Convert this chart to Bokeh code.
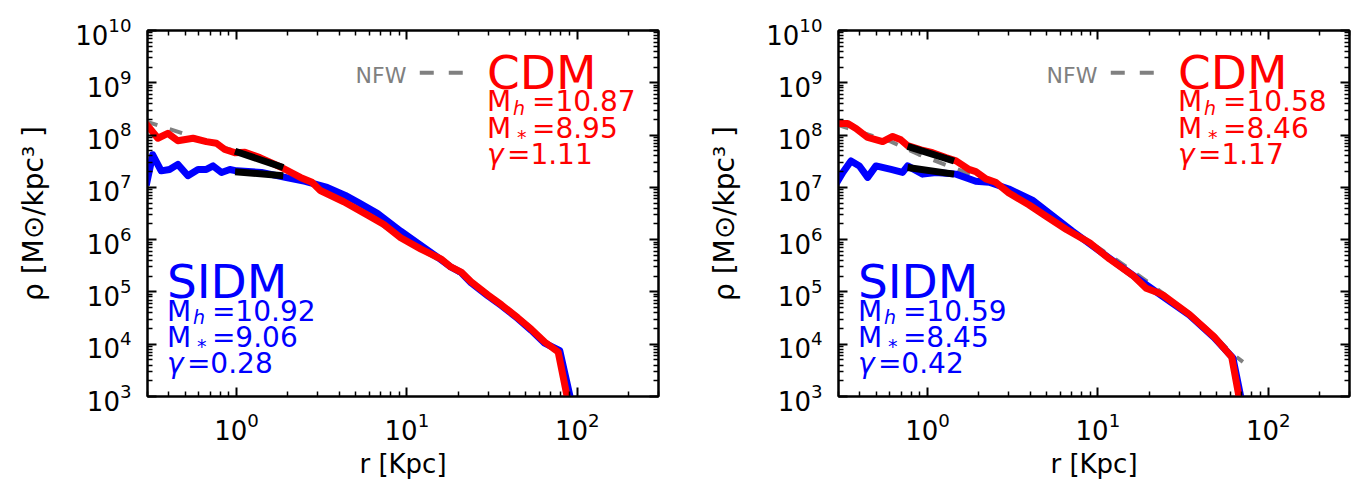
from bokeh.plotting import figure
from bokeh.layouts import row
from bokeh.models import LogAxis, FixedTicker, LogTickFormatter, Label, Range1d, CustomJSTickFormatter
from bokeh.embed import file_html
from bokeh.resources import INLINE

FONT = "DejaVu Sans"

# ---------------- tick values ----------------
X_TICKS = [1, 10, 100]
X_MINOR = [0.3, 0.4, 0.5, 0.6, 0.7, 0.8, 0.9, 2, 3, 4, 5, 6, 7, 8, 9,
           20, 30, 40, 50, 60, 70, 80, 90, 200, 300]
Y_TICKS = [1e3, 1e4, 1e5, 1e6, 1e7, 1e8, 1e9, 1e10]
Y_MINOR = [k * 10 ** e for e in range(3, 10) for k in range(2, 10)]

# ---------------- left panel data ----------------
L_cdm_r = [0.29, 0.345, 0.395, 0.452, 0.555, 0.665, 0.762, 0.853, 0.977, 1.12, 1.37,
           1.84, 2.37, 2.77, 3.10, 4.26, 5.85, 7.33, 9.19, 12.1, 15.8, 18.1, 20.8,
           23.8, 29.8, 35.8, 44.8, 53.7, 64.4, 77.3, 90.0]
L_cdm_rho = [1.75e8, 8.7e7, 1.08e8, 7.8e7, 8.7e7, 7.5e7, 7.0e7, 5.3e7, 4.6e7, 4.7e7, 3.7e7,
             2.4e7, 1.55e7, 1.25e7, 8.7e6, 5.3e6, 2.98e6, 1.94e6, 1.09e6, 6.6e5, 4.3e5, 3.0e5, 2.4e5,
             1.56e5, 8.8e4, 5.7e4, 3.2e4, 1.94e4, 1.1e4, 7.1e3, 6.0e2]
L_sidm_r = [0.295, 0.322, 0.361, 0.404, 0.452, 0.518, 0.594, 0.665, 0.728, 0.816, 0.913,
            1.0, 1.4, 1.93, 2.53, 3.4, 4.35, 5.1, 6.7, 9.2, 14.4, 18.1, 20.8, 23.8,
            29.8, 35.8, 44.8, 53.7, 64.4, 79.0, 94.0]
L_sidm_rho = [1.09e7, 4.2e7, 2.07e7, 2.2e7, 2.75e7, 1.67e7, 2.2e7, 2.2e7, 2.57e7, 1.93e7, 2.2e7,
              2.07e7, 1.93e7, 1.55e7, 1.3e7, 1.0e7, 7.0e6, 5.3e6, 3.2e6, 1.45e6, 5.2e5, 3.0e5, 2.35e5, 1.5e5,
              8.5e4, 5.5e4, 3.1e4, 1.85e4, 1.05e4, 7.5e3, 6.0e2]
L_nfw_r = [0.29, 0.5, 0.9, 1.84, 2.77, 5.85, 9.19, 18.1, 29.8, 44.8, 64.4, 77.0]
L_nfw_rho = [1.85e8, 1.04e8, 5.4e7, 2.4e7, 1.25e7, 2.98e6, 1.09e6, 3.0e5, 8.8e4, 3.2e4, 1.1e4, 7.1e3]
L_fit_cdm_r = [0.98, 1.88]
L_fit_cdm_rho = [4.9e7, 2.4e7]
L_fit_sidm_r = [0.98, 1.88]
L_fit_sidm_rho = [1.99e7, 1.67e7]

# ---------------- right panel data ----------------
R_cdm_r = [0.29, 0.34, 0.38, 0.445, 0.545, 0.624, 0.697, 0.763, 0.914, 1.07, 1.28, 1.47,
           1.75, 1.92, 2.2, 2.51, 3.0, 3.95, 4.99, 6.53, 8.94, 11.7, 16.0, 19.2, 22.0,
           24.0, 34.5, 48.0, 61.0, 70.0]
R_cdm_rho = [1.66e8, 1.66e8, 1.34e8, 9.0e7, 7.5e7, 9.4e7, 8.1e7, 6.3e7, 5.2e7, 4.6e7, 3.7e7, 3.2e7,
             2.2e7, 2.0e7, 1.45e7, 1.25e7, 7.8e6, 4.6e6, 2.77e6, 1.56e6, 8.7e5, 4.27e5, 2.08e5, 1.18e5, 1.0e5,
             8.8e4, 3.7e4, 1.4e4, 5.7e3, 5.0e2]
R_sidm_r = [0.29, 0.318, 0.355, 0.398, 0.445, 0.498, 0.61, 0.713, 0.764, 0.936, 1.12, 1.47,
            1.92, 2.3, 3.0, 4.12, 7.1, 11.7, 16.0, 22.0, 34.5, 48.0, 62.0, 72.0]
R_sidm_rho = [1.16e7, 1.93e7, 3.2e7, 2.57e7, 1.55e7, 2.57e7, 2.2e7, 1.93e7, 2.57e7, 1.79e7, 1.93e7, 1.79e7,
              1.31e7, 1.25e7, 9.3e6, 5.7e6, 1.45e6, 4.4e5, 2.1e5, 1.0e5, 3.6e4, 1.35e4, 5.5e3, 5.0e2]
R_nfw_r = [0.29, 0.61, 0.889, 1.33, 2.2, 3.0, 4.0, 6.5, 9.0, 12.2, 16.8, 24.0, 34.5, 48.0, 60.0, 71.0]
R_nfw_rho = [1.6e8, 7.5e7, 4.24e7, 2.57e7, 1.4e7, 8.0e6, 4.6e6, 1.65e6, 8.9e5, 4.6e5, 2.24e5,
             9.5e4, 3.8e4, 1.5e4, 7.0e3, 4.6e3]
R_fit_cdm_r = [0.763, 1.43]
R_fit_cdm_rho = [6.1e7, 3.19e7]
R_fit_sidm_r = [0.763, 1.43]
R_fit_sidm_rho = [2.39e7, 1.79e7]

# ---------------- annotations ----------------
L_cdm_stats = (10.87, 8.95, 1.11)
L_sidm_stats = (10.92, 9.06, 0.28)
R_cdm_stats = (10.58, 8.46, 1.17)
R_sidm_stats = (10.59, 8.45, 0.42)

LIFT = 7  # screen-pixel lift applied to the text annotations


def lab(p, x, y, text, size, color, dx=0, dy=0, style="normal"):
    p.add_layout(Label(x=x, y=y, x_offset=dx, y_offset=dy + LIFT, text=text,
                       text_font=FONT, text_font_size=size, text_color=color,
                       text_font_style=style, text_baseline="alphabetic",
                       text_align="left"))


def stat_block(p, x, ys, title, stats, color):
    mh, ms, g = stats
    lab(p, x, ys[0], title, "47px", color, dy=3)
    lab(p, x, ys[1], "M", "28px", color)
    lab(p, x, ys[1], "h", "19px", color, dx=26, dy=-6, style="italic")
    lab(p, x, ys[1], "=%.2f" % mh, "28px", color, dx=45)
    lab(p, x, ys[2], "M", "28px", color)
    lab(p, x, ys[2], "*", "19px", color, dx=30, dy=-9)
    lab(p, x, ys[2], "=%.2f" % ms, "28px", color, dx=45)
    lab(p, x, ys[3], "γ", "28px", color, style="italic")
    lab(p, x, ys[3], "=%.2f" % g, "28px", color, dx=20)


def style_axis(ax, ticks, minor, labels=True):
    ax.ticker = FixedTicker(ticks=ticks, minor_ticks=minor)
    ax.axis_line_width = 2
    ax.major_tick_line_width = 2
    ax.minor_tick_line_width = 1.5
    ax.major_tick_in = 9
    ax.major_tick_out = 0
    ax.minor_tick_in = 5
    ax.minor_tick_out = 0
    ax.major_label_text_font = FONT
    ax.major_label_text_color = "black"
    ax.major_label_text_font_size = "26px"
    if labels:
        ax.formatter = LogTickFormatter()
    else:
        ax.formatter = CustomJSTickFormatter(code="return '';")
        ax.major_label_standoff = 0


def panel(cdm, sidm, nfw, fit_cdm, fit_sidm, cdm_stats, sidm_stats, left_border, right_border, width):
    p = figure(width=width, height=481, x_axis_type="log", y_axis_type="log",
               x_range=Range1d(0.3, 300), y_range=Range1d(1e3, 1e10),
               output_backend="svg", toolbar_location=None,
               min_border_left=left_border, min_border_right=right_border,
               min_border_top=30, min_border_bottom=77)
    p.grid.visible = False
    p.outline_line_color = "black"
    p.outline_line_width = 2
    p.background_fill_color = "white"
    p.border_fill_color = "white"

    p.add_layout(LogAxis(), "above")
    p.add_layout(LogAxis(), "right")
    style_axis(p.below[0], X_TICKS, X_MINOR, True)
    style_axis(p.above[0], X_TICKS, X_MINOR, False)
    style_axis(p.left[0], Y_TICKS, Y_MINOR, True)
    style_axis(p.right[0], Y_TICKS, Y_MINOR, False)

    xa = p.below[0]
    xa.axis_label = "r [Kpc]"
    xa.axis_label_text_font = FONT
    xa.axis_label_text_font_size = "26px"
    xa.axis_label_text_font_style = "normal"
    xa.axis_label_text_color = "black"
    xa.axis_label_standoff = 6
    xa.major_label_standoff = 15

    ya = p.left[0]
    ya.axis_label = "ρ [M⊙/kpc³ ]"
    ya.axis_label_text_font = FONT
    ya.axis_label_text_font_size = "28px"
    ya.axis_label_text_font_style = "normal"
    ya.axis_label_text_color = "black"
    ya.axis_label_standoff = 22
    ya.major_label_standoff = 16

    p.line(nfw[0], nfw[1], line_color="gray", line_width=4, line_dash="13 13")
    p.line(sidm[0], sidm[1], line_color="blue", line_width=7, line_join="round")
    p.line(cdm[0], cdm[1], line_color="red", line_width=7, line_join="round")
    p.line(fit_cdm[0], fit_cdm[1], line_color="black", line_width=7)
    p.line(fit_sidm[0], fit_sidm[1], line_color="black", line_width=7)

    # NFW legend-like note
    lab(p, 5.0, 1e9, "NFW", "22px", "gray")
    p.line([11.9, 21.3], [10 ** 9.19, 10 ** 9.19], line_color="gray", line_width=4, line_dash="14 15")

    stat_block(p, 29.5, [1e9, 10 ** 8.5, 1e8, 10 ** 7.5], "CDM", cdm_stats, "red")
    stat_block(p, 0.39, [1e5, 10 ** 4.5, 1e4, 10 ** 3.5], "SIDM", sidm_stats, "blue")
    return p


p1 = panel((L_cdm_r, L_cdm_rho), (L_sidm_r, L_sidm_rho), (L_nfw_r, L_nfw_rho),
           (L_fit_cdm_r, L_fit_cdm_rho), (L_fit_sidm_r, L_fit_sidm_rho),
           L_cdm_stats, L_sidm_stats, 147, 20, 678)
p2 = panel((R_cdm_r, R_cdm_rho), (R_sidm_r, R_sidm_rho), (R_nfw_r, R_nfw_rho),
           (R_fit_cdm_r, R_fit_cdm_rho), (R_fit_sidm_r, R_fit_sidm_rho),
           R_cdm_stats, R_sidm_stats, 160, 7, 678)

layout = row(p1, p2)
open("out.html", "w").write(file_html(layout, INLINE))
